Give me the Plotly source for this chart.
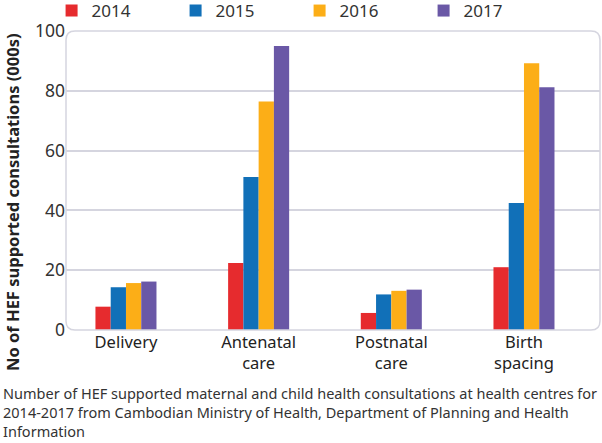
import plotly.graph_objects as go

categories = ["Delivery", "Antenatal<br>care", "Postnatal<br>care", "Birth<br>spacing"]
years = ["2014", "2015", "2016", "2017"]
v2014 = [7.8, 22.4, 5.7, 21.0]
v2015 = [14.3, 51.2, 11.9, 42.5]
v2016 = [15.7, 76.4, 13.1, 89.2]
v2017 = [16.2, 95.0, 13.5, 81.2]
series = [v2014, v2015, v2016, v2017]
colors = ["#e62b2e", "#1170b8", "#fcae17", "#6a58a6"]
yticks = [0, 20, 40, 60, 80, 100]
caption = ("Number of HEF supported maternal and child health consultations at health centres for<br>"
           "2014-2017 from Cambodian Ministry of Health, Department of Planning and Health<br>"
           "Information")
ytitle = "No of HEF supported consultations (000s)"

FONT = "Noto Sans"
W, H = 602, 443
L, R, T, B = 66, 2, 31, 113
pw, ph = W - L - R, H - T - B

fig = go.Figure()
xs = list(range(len(categories)))
for name, vals, c in zip(years, series, colors):
    fig.add_trace(go.Bar(x=xs, y=vals, name=name, marker=dict(color=c, line=dict(width=0))))

# rounded frame
rx, ry = 9 / pw, 9 / ph
path = (f"M {rx},0 L {1-rx},0 Q 1,0 1,{ry} L 1,{1-ry} Q 1,1 {1-rx},1 "
        f"L {rx},1 Q 0,1 0,{1-ry} L 0,{ry} Q 0,0 {rx},0 Z")
fig.add_shape(type="path", path=path, xref="paper", yref="paper",
              line=dict(color="#d5d5df", width=1.5), layer="above")

fig.add_annotation(text=f"<b>{ytitle}</b>", textangle=-90, xref="paper", yref="paper",
                   x=-54 / pw, y=(H - B - 202) / ph, xanchor="center", yanchor="middle",
                   showarrow=False, font=dict(family=FONT, size=16.5, color="#222"))
fig.add_annotation(text=caption, xref="paper", yref="paper", x=-(L - 1) / pw, xanchor="left",
                   y=-(381 - (H - B)) / ph, yanchor="top", align="left", showarrow=False,
                   font=dict(family=FONT, size=14.5, color="#333"))

fig.update_layout(
    width=W, height=H, margin=dict(l=L, r=R, t=T, b=B, autoexpand=False),
    paper_bgcolor="white", plot_bgcolor="white",
    barmode="group", bargap=0.54, bargroupgap=0,
    font=dict(family=FONT, size=16, color="#333"),
    showlegend=True,
    legend=dict(orientation="h", x=-0.027, xanchor="left", y=1.0 + 20 / ph, yanchor="middle",
                bgcolor="rgba(0,0,0,0)",
                font=dict(family=FONT, size=17, color="#333"), entrywidth=79,
                entrywidthmode="pixels", itemsizing="constant", traceorder="normal"),
    xaxis=dict(tickmode="array", tickvals=xs, ticktext=categories, range=[-0.452, 3.573],
               showgrid=False, zeroline=False, showline=False, ticks="", automargin=False,
               tickfont=dict(family=FONT, size=16.5, color="#222")),
    yaxis=dict(range=[0, 100], tickvals=yticks, showgrid=True, gridcolor="#d5d5df", gridwidth=1.5,
               zeroline=False, showline=False, ticks="", ticklen=0, automargin=False,
               tickfont=dict(family=FONT, size=17.5, color="#333")),
)
fig.write_html("out.html", config={"displayModeBar": False},
               post_script="document.body.style.margin='0px';document.body.style.padding='0px';")
